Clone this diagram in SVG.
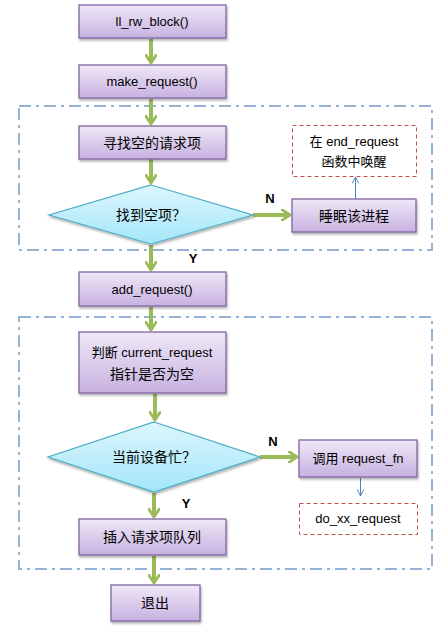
<svg xmlns="http://www.w3.org/2000/svg" width="448" height="631" viewBox="0 0 448 631">
<defs>
<linearGradient id="gp" x1="0" y1="0" x2="0" y2="1"><stop offset="0" stop-color="#EFE8F7"/><stop offset="1" stop-color="#C7B1E0"/></linearGradient>
<linearGradient id="gc" x1="0" y1="0" x2="0" y2="1"><stop offset="0" stop-color="#DDF6FC"/><stop offset="1" stop-color="#A3E6F9"/></linearGradient>
<filter id="sh" x="-10%" y="-10%" width="130%" height="140%"><feDropShadow dx="1" dy="2" stdDeviation="1.2" flood-color="#000" flood-opacity="0.3"/></filter>
<marker id="ag" viewBox="0 0 10 10" refX="7" refY="5" markerWidth="3.2" markerHeight="3.2" orient="auto" markerUnits="strokeWidth"><path d="M1,1 L7,5 L1,9" fill="none" stroke="#9BBB59" stroke-width="2.2" stroke-linecap="round" stroke-linejoin="round"/></marker>
<marker id="ab" viewBox="0 0 10 10" refX="9" refY="5" markerWidth="8" markerHeight="8" orient="auto" markerUnits="userSpaceOnUse"><path d="M1,1 L9,5 L1,9" fill="none" stroke="#4F81BD" stroke-width="1.2"/></marker>
</defs>
<style>
.box{fill:url(#gp);stroke:#8064A2;stroke-width:1.3;filter:url(#sh)}
.dia{fill:url(#gc);stroke:#4BACC6;stroke-width:1.2;filter:url(#sh)}
.red{fill:#fff;stroke:#C0504D;stroke-width:1;stroke-dasharray:4 3}
.grp{fill:none;stroke:#95B3D7;stroke-width:2;stroke-dasharray:12 5 3 5}
.g{stroke:#9BBB59;stroke-width:4;fill:none;marker-end:url(#ag)}
.b{stroke:#4F81BD;stroke-width:1;fill:none;marker-end:url(#ab)}
text{font-family:"Liberation Sans","Noto Sans CJK SC",sans-serif;font-size:13px;fill:#000;text-anchor:middle}
.cn{font-size:14px}
.lab{font-family:"Liberation Sans",sans-serif;font-weight:bold;font-size:13px}
</style>
<g id="groups">
<rect class="grp" x="19" y="106" width="413" height="144"/>
<rect class="grp" x="19" y="317" width="413" height="252"/>
</g>
<g id="connectors">
<line class="g" x1="151" y1="39" x2="151" y2="63"/>
<line class="g" x1="151" y1="99" x2="151" y2="124"/>
<line class="g" x1="151" y1="159" x2="151" y2="183"/>
<line class="g" x1="253" y1="215" x2="290" y2="215"/>
<line class="b" x1="355.5" y1="199" x2="355.5" y2="177"/>
<line class="g" x1="151" y1="245" x2="151" y2="270"/>
<line class="g" x1="151" y1="307" x2="151" y2="330"/>
<line class="g" x1="155" y1="394" x2="155" y2="420"/>
<line class="g" x1="260" y1="457" x2="297" y2="457"/>
<line class="b" x1="360.5" y1="478" x2="360.5" y2="496"/>
<line class="g" x1="154" y1="493" x2="154" y2="517"/>
<line class="g" x1="154" y1="556" x2="154" y2="583"/>
<text class="lab" x="270" y="203">N</text>
<text class="lab" x="193" y="263">Y</text>
<text class="lab" x="273" y="446">N</text>
<text class="lab" x="186" y="508">Y</text>
</g>
<g id="n1"><rect class="box" x="79" y="5" width="147" height="33"/><text x="152" y="26">ll_rw_block()</text></g>
<g id="n2"><rect class="box" x="79" y="65" width="147" height="33"/><text x="152" y="86">make_request()</text></g>
<g id="n3"><rect class="box" x="79" y="126" width="147" height="33"/><text class="cn" x="152" y="148">寻找空的请求项</text></g>
<g id="n4"><polygon class="dia" points="151,185 253,215 151,244 49,215"/><text class="cn" x="151" y="220">找到空项？</text></g>
<g id="n5"><rect class="box" x="292" y="199" width="124" height="33"/><text class="cn" x="354" y="221">睡眠该进程</text></g>
<g id="n6"><rect class="red" x="292.5" y="125.5" width="124" height="51"/><text x="354" y="146">在 end_request</text><text x="354" y="166">函数中唤醒</text></g>
<g id="n7"><rect class="box" x="79" y="272" width="147" height="34"/><text x="152" y="294">add_request()</text></g>
<g id="n8"><rect class="box" x="79" y="332" width="147" height="61"/><text x="152" y="357">判断 current_request</text><text class="cn" x="152" y="379">指针是否为空</text></g>
<g id="n9"><polygon class="dia" points="154,422 260,457 154,492 48,457"/><text class="cn" x="154" y="462">当前设备忙？</text></g>
<g id="n10"><rect class="box" x="299" y="440" width="118" height="37"/><text x="358" y="463">调用 request_fn</text></g>
<g id="n11"><rect class="red" x="299.5" y="503.5" width="118" height="31"/><text x="358" y="523">do_xx_request</text></g>
<g id="n12"><rect class="box" x="79" y="519" width="147" height="36"/><text class="cn" x="152" y="542">插入请求项队列</text></g>
<g id="n13"><rect class="box" x="111" y="585" width="89" height="36"/><text class="cn" x="155" y="608">退出</text></g>
</svg>
